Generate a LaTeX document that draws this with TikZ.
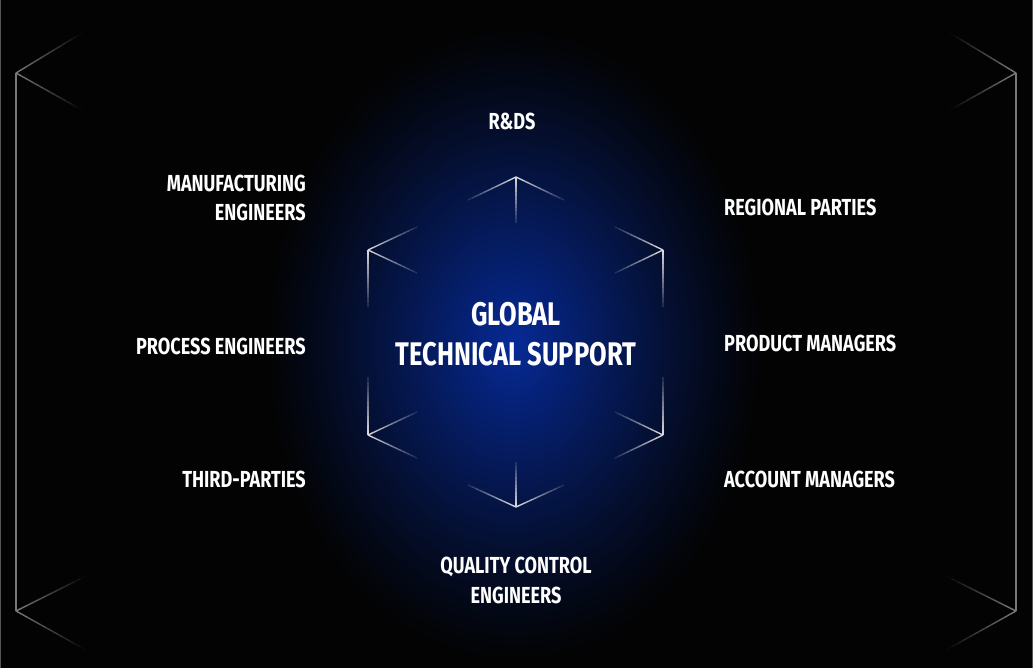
\documentclass[tikz,border=0pt]{standalone}
\usepackage{fontspec}
\setmainfont{Fira Sans}[FakeStretch=0.78]
\usetikzlibrary{calc}
\definecolor{bg}{RGB}{3,3,3}
\definecolor{glowc}{RGB}{6,42,150}
\definecolor{hexline}{RGB}{215,215,220}
\definecolor{outline}{RGB}{120,120,120}
\definecolor{edgeline}{RGB}{85,85,85}
\newcommand\fadeseg[4]{%
  \foreach \k in {0,...,11}{%
    \pgfmathsetmacro\op{1-(1-#4)*\k/11}%
    \draw[#3, line width=1.4pt, draw opacity=\op] ($(#1)!{\k/12}!(#2)$) -- ($(#1)!{(\k+1)/12}!(#2)$);%
  }%
}
\begin{document}
\begin{tikzpicture}[x=1pt,y=-1pt,
  lbl/.style={text=white,font=\bfseries\fontsize{23.2}{30}\selectfont,inner sep=0pt},
  ctr/.style={text=white,font=\bfseries\fontsize{32.7}{40}\selectfont,inner sep=0pt,align=center}]
\useasboundingbox (0,0) rectangle (1033,668);
\fill[bg] (0,0) rectangle (1033,668);
% glow
\coordinate (gc) at (514,345);
\begin{scope}
\clip (0,0) rectangle (1033,668);
\foreach \i in {0,...,79}{
  \pgfmathsetmacro\rr{1-\i/80}
  \pgfmathsetmacro\pp{100*((\i+0.5)/80)^1.15}
  \fill[glowc!\pp!bg] (gc) ellipse [x radius=250*\rr, y radius=320*\rr];
}
\end{scope}
% edge lines
\coordinate (el1) at (0.6,0); \coordinate (el2) at (0.6,668);
\coordinate (er1) at (1032.4,0); \coordinate (er2) at (1032.4,668);
\draw[edgeline,line width=1.2pt] (el1) -- (el2);
\draw[edgeline,line width=1.2pt] (er1) -- (er2);
% outer brackets
\coordinate (LT) at (16,73); \coordinate (LB) at (16,611);
\coordinate (RT) at (1016,73); \coordinate (RB) at (1016,611);
\draw[outline,line width=1.4pt] (LT) -- (LB);
\draw[outline,line width=1.4pt] (RT) -- (RB);
\coordinate (LTa) at (82,33); \coordinate (LTb) at (82,110);
\coordinate (LBa) at (86,576); \coordinate (LBb) at (86,650);
\coordinate (RTa) at (950,33); \coordinate (RTb) at (950,110);
\coordinate (RBa) at (946,576); \coordinate (RBb) at (946,650);
\fadeseg{LT}{LTa}{outline}{0.05}
\fadeseg{LT}{LTb}{outline}{0.05}
\fadeseg{LB}{LBa}{outline}{0.05}
\fadeseg{LB}{LBb}{outline}{0.05}
\fadeseg{RT}{RTa}{outline}{0.05}
\fadeseg{RT}{RTb}{outline}{0.05}
\fadeseg{RB}{RBa}{outline}{0.05}
\fadeseg{RB}{RBb}{outline}{0.05}
% hexagon corners
\coordinate (T) at (516,177);
\coordinate (Ta) at (468,200); \coordinate (Tb) at (564,200); \coordinate (Tc) at (516,223);
\coordinate (UL) at (368,250);
\coordinate (ULa) at (417,227); \coordinate (ULb) at (417,273); \coordinate (ULc) at (368,307);
\coordinate (UR) at (663,250);
\coordinate (URa) at (615,227); \coordinate (URb) at (615,273); \coordinate (URc) at (663,307);
\coordinate (LL) at (368,435);
\coordinate (LLa) at (417,412); \coordinate (LLb) at (417,458); \coordinate (LLc) at (368,377);
\coordinate (LR) at (663,435);
\coordinate (LRa) at (615,412); \coordinate (LRb) at (615,458); \coordinate (LRc) at (663,377);
\coordinate (B) at (516,507);
\coordinate (Ba) at (468,485); \coordinate (Bb) at (564,485); \coordinate (Bc) at (516,462);
\foreach \v in {T,UL,UR,LL,LR,B}{
  \fadeseg{\v}{\v a}{hexline}{0.15}
  \fadeseg{\v}{\v b}{hexline}{0.15}
  \fadeseg{\v}{\v c}{hexline}{0.15}
}
% centre
\node[ctr,anchor=base] (g1) at (516,325) {GLOBAL};
\node[ctr,anchor=base] (g2) at (516,365) {TECHNICAL SUPPORT};
% labels
\node[lbl,anchor=base] (rds) at (512,130) {R\&DS};
\node[lbl,anchor=base east] (mf1) at (306,192) {MANUFACTURING};
\node[lbl,anchor=base east] (mf2) at (306,221) {ENGINEERS};
\node[lbl,anchor=base east] (pe) at (306,354) {PROCESS ENGINEERS};
\node[lbl,anchor=base east] (tp) at (306,487) {THIRD-PARTIES};
\node[lbl,anchor=base west] (rp) at (724,216) {REGIONAL PARTIES};
\node[lbl,anchor=base west] (pm) at (724,351) {PRODUCT MANAGERS};
\node[lbl,anchor=base west] (am) at (724,487) {ACCOUNT MANAGERS};
\node[lbl,anchor=base] (qc1) at (516,573) {QUALITY CONTROL};
\node[lbl,anchor=base] (qc2) at (516,603) {ENGINEERS};
\end{tikzpicture}
\end{document}
